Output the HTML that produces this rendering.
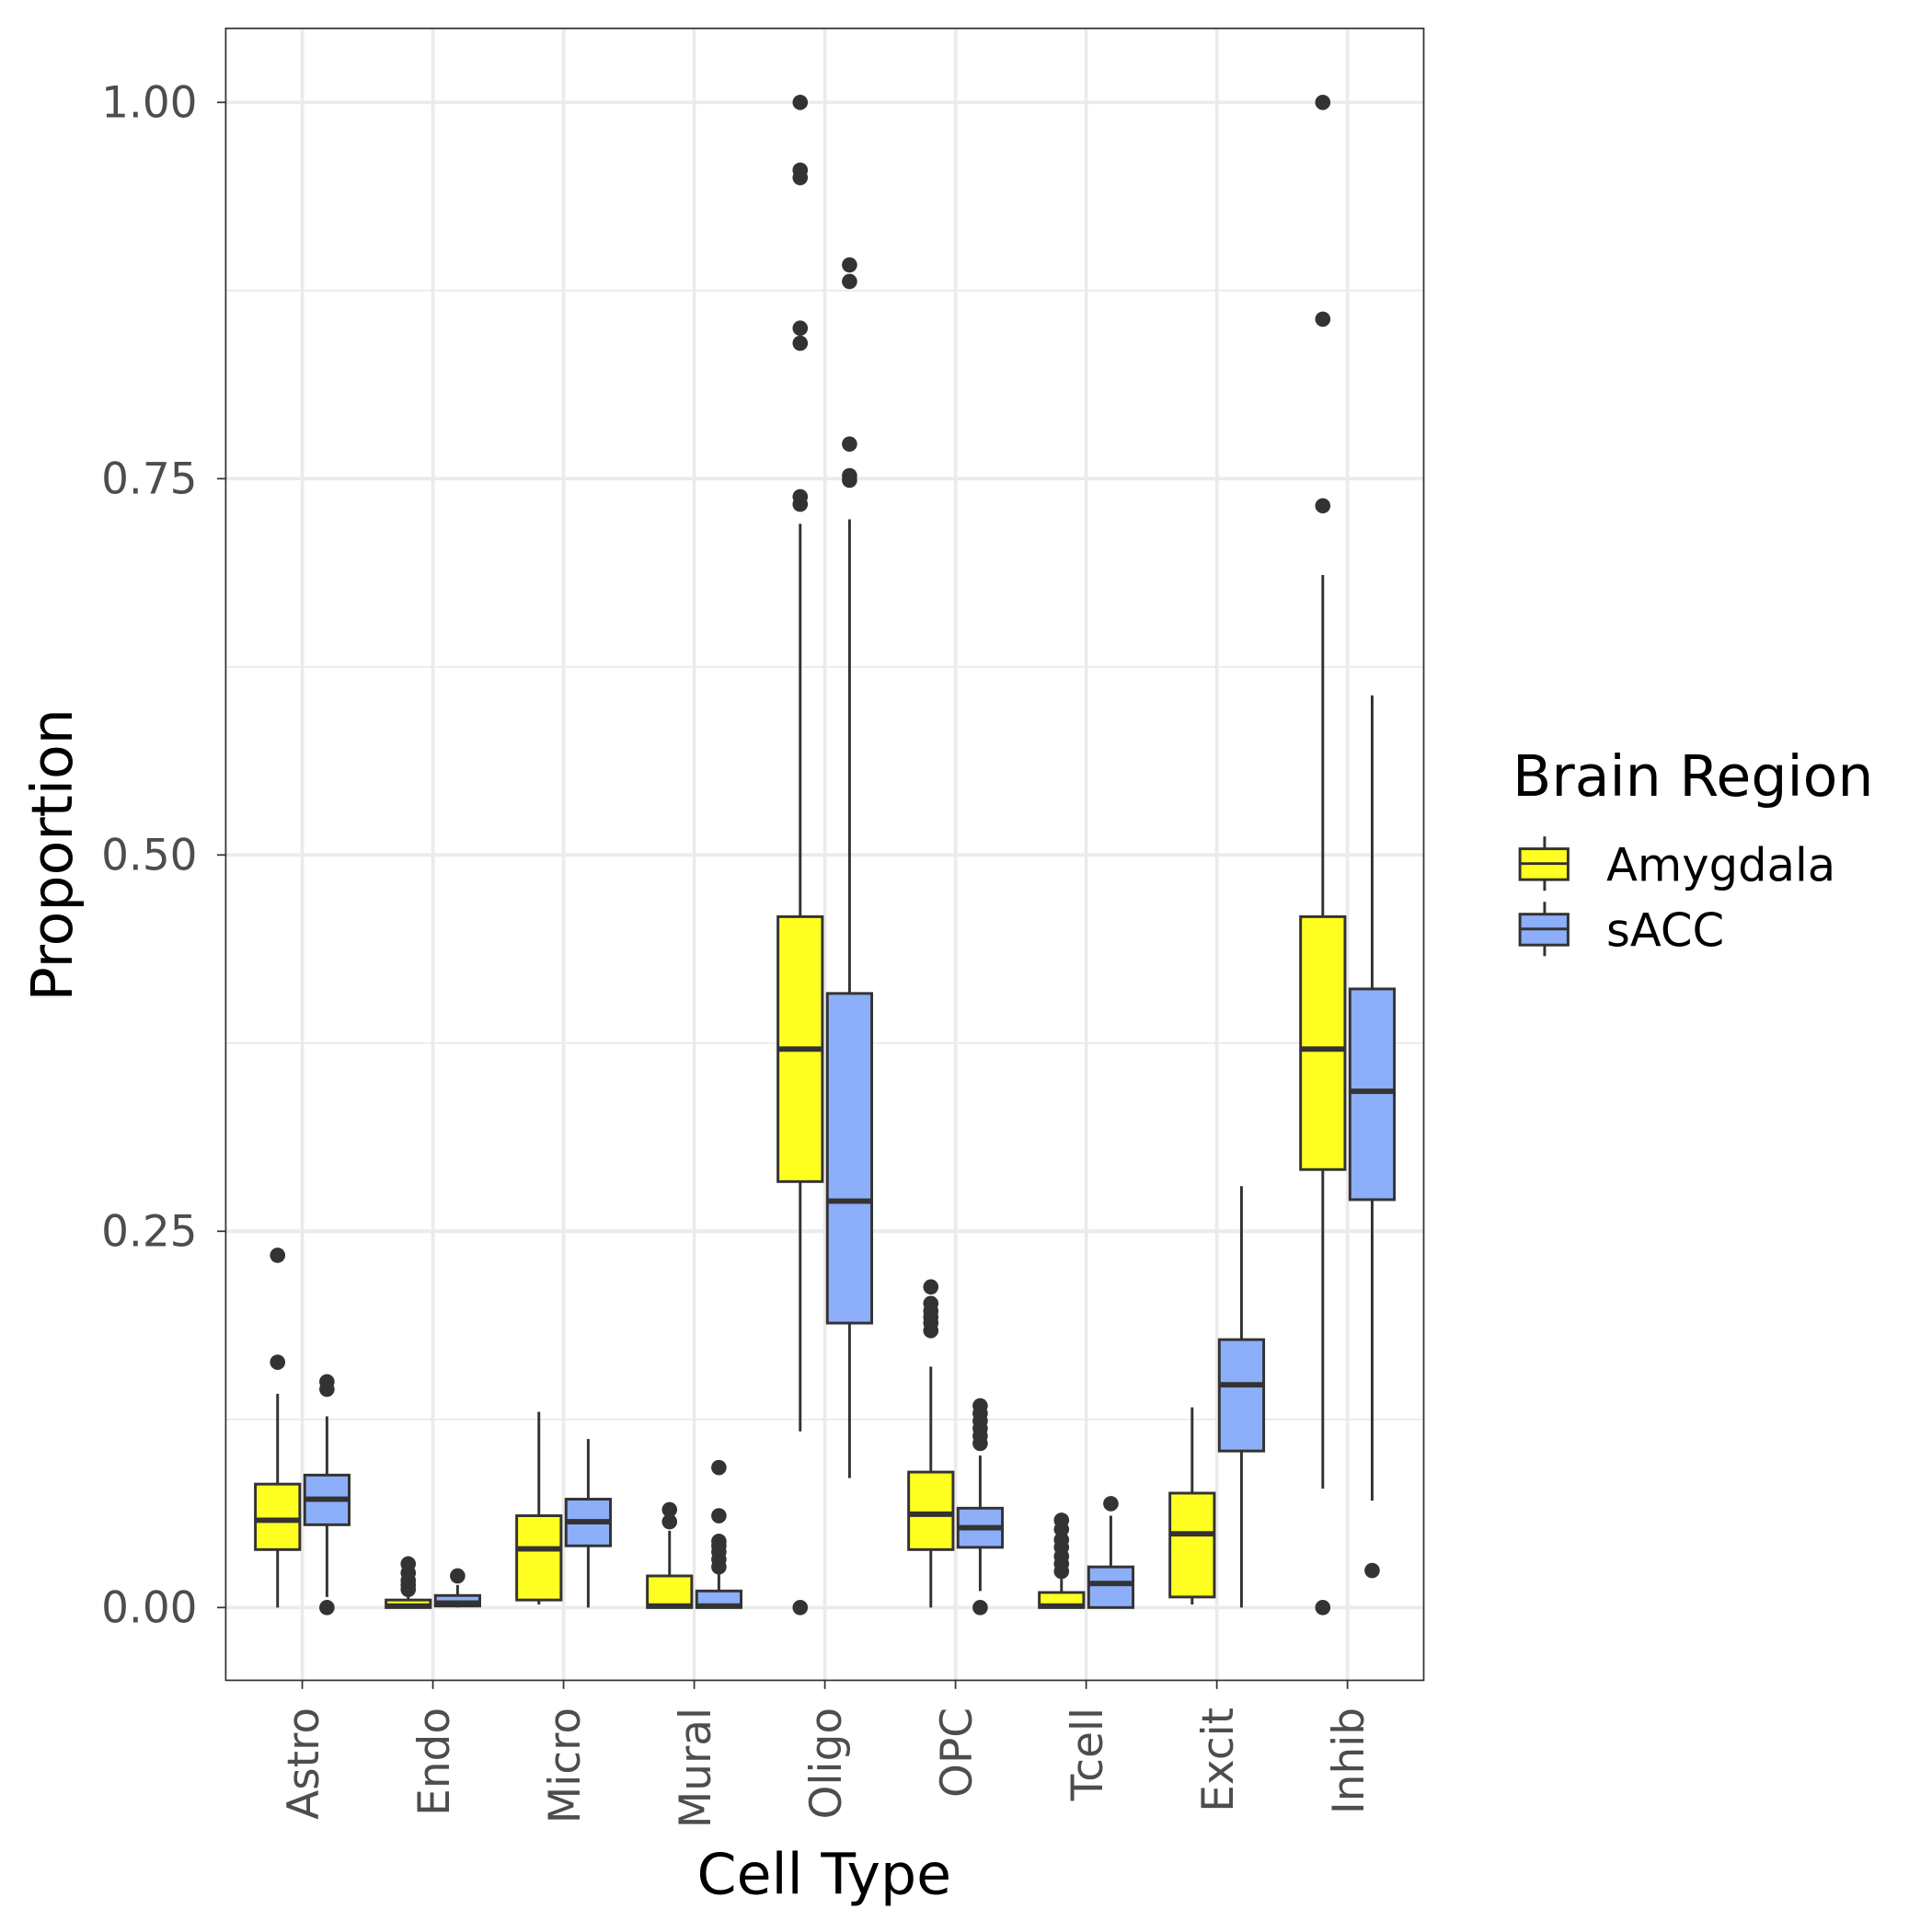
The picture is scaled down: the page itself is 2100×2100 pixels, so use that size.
<!DOCTYPE html>
<html><head><meta charset="utf-8"><style>
html,body{margin:0;padding:0;background:#fff}
svg{display:block;font-family:"DejaVu Sans","Liberation Sans",sans-serif}
</style></head><body>
<svg id="chart" width="2100" height="2100" viewBox="0 0 1566 1566" xmlns="http://www.w3.org/2000/svg">
<g id="grid"></g>
<g id="marks"></g>
<rect x="183" y="23" width="971" height="1339" fill="none" stroke="#333" stroke-width="1.3"/>
<g id="axes"></g>
<text transform="translate(58,693) rotate(-90)" text-anchor="middle" font-size="46" fill="#000">Proportion</text>
<text x="668" y="1535" text-anchor="middle" font-size="46" fill="#000">Cell Type</text>
<g>
<text x="1226" y="645" font-size="46" fill="#000">Brain Region</text>
<g>
<line x1="1252" y1="678" x2="1252" y2="722" stroke="#333" stroke-width="2.2"/>
<rect x="1232" y="688" width="39" height="25" fill="#FFFF22" stroke="#333" stroke-width="2.2"/>
<line x1="1232" y1="700" x2="1271" y2="700" stroke="#333" stroke-width="2.2"/>
<text x="1302" y="714" font-size="37" fill="#000">Amygdala</text>
</g>
<g>
<line x1="1252" y1="731" x2="1252" y2="775" stroke="#333" stroke-width="2.2"/>
<rect x="1232" y="741" width="39" height="25" fill="#8DAEF8" stroke="#333" stroke-width="2.2"/>
<line x1="1232" y1="753" x2="1271" y2="753" stroke="#333" stroke-width="2.2"/>
<text x="1302" y="767" font-size="37" fill="#000">sACC</text>
</g>
</g>
</svg>
<script>
const categories = ["Astro","Endo","Micro","Mural","Oligo","OPC","Tcell","Excit","Inhib"];
const yTicks = [0, 0.25, 0.5, 0.75, 1.0];
const yTickLabels = ["0.00","0.25","0.50","0.75","1.00"];
const yMinorTicks = [0.125, 0.375, 0.625, 0.875];
// [lowerWhisker, q1, median, q3, upperWhisker]
const amygdalaStats = [
 [0.0,0.0385,0.058,0.082,0.142],
 [0.0,0.0,0.001,0.005,0.009],
 [0.002,0.005,0.039,0.061,0.130],
 [0.0,0.0,0.001,0.021,0.051],
 [0.117,0.283,0.371,0.459,0.720],
 [0.0,0.0385,0.062,0.090,0.160],
 [0.0,0.0,0.001,0.010,0.019],
 [0.002,0.007,0.049,0.076,0.133],
 [0.079,0.291,0.371,0.459,0.686]
];
const saccStats = [
 [0.007,0.055,0.072,0.088,0.127],
 [0.0,0.001,0.003,0.008,0.015],
 [0.0,0.041,0.057,0.072,0.112],
 [0.0,0.0,0.001,0.011,0.022],
 [0.086,0.189,0.270,0.408,0.723],
 [0.011,0.040,0.053,0.066,0.101],
 [0.0,0.0,0.016,0.027,0.061],
 [0.0,0.104,0.148,0.178,0.280],
 [0.071,0.271,0.343,0.411,0.606]
];
const amygdalaOutliers = [
 [0.163,0.234],
 [0.012,0.015,0.018,0.023,0.029],
 [],
 [0.057,0.065],
 [0.0,0.733,0.738,0.840,0.850,0.950,0.955,1.0],
 [0.184,0.189,0.193,0.197,0.202,0.213],
 [0.024,0.029,0.034,0.040,0.045,0.052,0.058],
 [],
 [0.0,0.732,0.856,1.0]
];
const saccOutliers = [
 [0.0,0.145,0.150],
 [0.021],
 [],
 [0.027,0.032,0.037,0.041,0.044,0.061,0.093],
 [0.749,0.752,0.773,0.881,0.892],
 [0.0,0.109,0.114,0.119,0.124,0.129,0.134],
 [0.069],
 [],
 [0.0246]
];
const NS="http://www.w3.org/2000/svg";
const X0=183,X1=1154,Y0=23,Y1=1362;
function yScale(v){return 1303-v*1220;}
function xScale(i){return 245+i*105.9;}
function mk(parent,tag,attrs){const e=document.createElementNS(NS,tag);for(const k in attrs)e.setAttribute(k,attrs[k]);parent.appendChild(e);return e;}
const grid=document.getElementById('grid'),marks=document.getElementById('marks'),axes=document.getElementById('axes');
mk(grid,'rect',{x:X0,y:Y0,width:X1-X0,height:Y1-Y0,fill:'#fff'});
yMinorTicks.forEach(v=>{const l=mk(grid,'line',{x1:X0,x2:X1,y1:yScale(v),y2:yScale(v),stroke:'#ebebeb','stroke-width':1.4});

});
yTicks.forEach((v,i)=>{const l=mk(grid,'line',{x1:X0,x2:X1,y1:yScale(v),y2:yScale(v),stroke:'#ebebeb','stroke-width':2.8});


mk(axes,'line',{x1:X0-7,x2:X0,y1:yScale(v),y2:yScale(v),stroke:'#333','stroke-width':1.3});
const t=mk(axes,'text',{x:X0-23,y:yScale(v)+12,'text-anchor':'end','font-size':35,fill:'#4d4d4d'});
t.textContent=yTickLabels[i];

});
categories.forEach((c,i)=>{const x=xScale(i);
const l=mk(grid,'line',{x1:x,x2:x,y1:Y0,y2:Y1,stroke:'#ebebeb','stroke-width':2.8});


mk(axes,'line',{x1:x,x2:x,y1:Y1,y2:Y1+7,stroke:'#333','stroke-width':1.3});
const t=mk(axes,'text',{transform:`translate(${x+13},1384) rotate(-90)`,'text-anchor':'end','font-size':35,fill:'#4d4d4d'});
t.textContent=c;

});
function drawBox(i,off,s,outs,fill,name){
 const cx=xScale(i)+off,w=36;
 const g=mk(marks,'g',{});
 
 
 mk(g,'line',{x1:cx,x2:cx,y1:yScale(s[0]),y2:yScale(s[4]),stroke:'#333','stroke-width':2.2});
 mk(g,'rect',{x:cx-w/2,y:yScale(s[3]),width:w,height:Math.max(yScale(s[1])-yScale(s[3]),0.5),fill:fill,stroke:'#333','stroke-width':2.2});
 mk(g,'line',{x1:cx-w/2,x2:cx+w/2,y1:yScale(s[2]),y2:yScale(s[2]),stroke:'#333','stroke-width':4.4});
 outs.forEach(v=>{const p=mk(g,'circle',{cx:cx,cy:yScale(v),r:6.2,fill:'#333'});
 
 });
}
categories.forEach((c,i)=>{
 drawBox(i,-20,amygdalaStats[i],amygdalaOutliers[i],'#FFFF22','box-amygdala-'+c.toLowerCase());
 drawBox(i,20,saccStats[i],saccOutliers[i],'#8DAEF8','box-sacc-'+c.toLowerCase());
});
</script>
</body></html>
